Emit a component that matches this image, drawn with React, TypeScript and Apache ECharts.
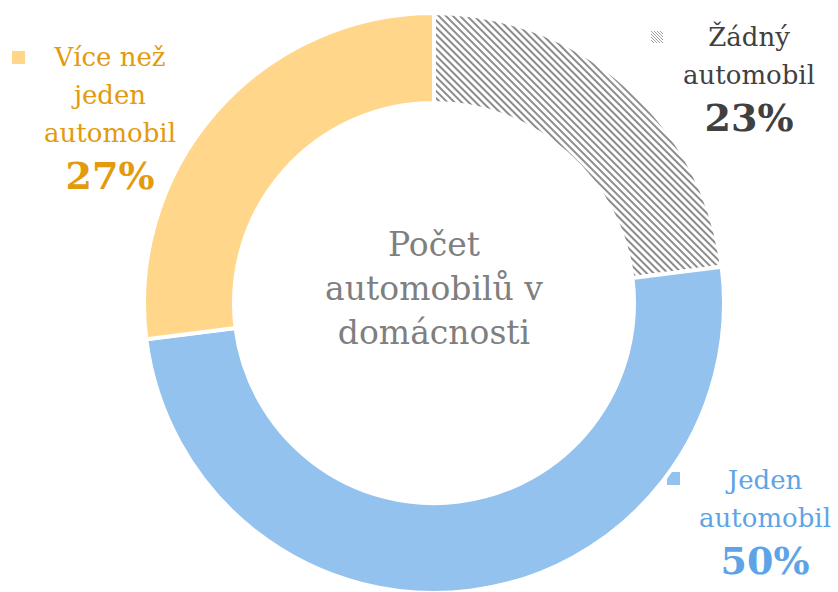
import React, { useEffect, useRef } from "react";
import * as echarts from "echarts";

const categories = ["Žádný automobil", "Jeden automobil", "Více než jeden automobil"];
const labelLines = [["Žádný", "automobil"], ["Jeden", "automobil"], ["Více než", "jeden", "automobil"]];
const values = [23, 50, 27];
const centerLines = ["Počet", "automobilů v", "domácnosti"];

const sliceColors = ["#ffffff", "#93C2EF", "#FFD68A"];
const textColors = ["#404040", "#5DA4E6", "#E39A0C"];
const FONT = "'DejaVu Serif', 'Liberation Serif', serif";

export default function App() {
  const ref = useRef<HTMLDivElement>(null);
  useEffect(() => {
    document.body.style.margin = "0";
    const chart = echarts.init(ref.current!, null, { renderer: "svg" });

    // label anchor positions (text center x, first line center y, marker x, marker y)
    const labelPos = [
      { tx: 749, ty: 37, mx: 651, my: 31 },
      { tx: 765, ty: 480, mx: 667, my: 472 },
      { tx: 110, ty: 57, mx: 12, my: 51 },
    ];

    const graphics: any[] = [];
    const total = values.reduce((a, b) => a + b, 0);
    categories.forEach((c, i) => {
      const p = labelPos[i];
      const pct = Math.round((values[i] / total) * 100) + "%";
      const txt = labelLines[i].map((l) => `{t|${l}}`).join("\n") + `\n{p|${pct}}`;
      graphics.push({
        type: "text",
        x: p.tx,
        y: p.ty - 19,
        style: {
          text: txt,
          align: "center",
          verticalAlign: "top",
          fill: textColors[i],
          rich: {
            t: { fontFamily: FONT, fontSize: 26, lineHeight: 38, fill: textColors[i], align: "center" },
            p: { fontFamily: FONT, fontSize: 38, fontWeight: "bold", lineHeight: 46, fill: textColors[i], align: "center" },
          },
        },
      });
      if (i === 0) {
        const s = 12;
        const lines: any[] = [];
        for (let d = -9; d <= 9; d += 3) {
          const x1 = d >= 0 ? 0 : -d;
          const y1 = d >= 0 ? d : 0;
          const x2 = d >= 0 ? s - d : s;
          const y2 = d >= 0 ? s : s + d;
          lines.push({
            type: "line",
            shape: { x1: p.mx + x1, y1: p.my + y1, x2: p.mx + x2, y2: p.my + y2 },
            style: { stroke: "#a0a0a0", lineWidth: 1 },
          });
        }
        graphics.push({ type: "group", children: lines });
      } else {
        graphics.push({
          type: "rect",
          shape: { x: p.mx, y: p.my, width: 13, height: 13 },
          style: { fill: sliceColors[i] },
        });
      }
    });

    graphics.push({
      type: "text",
      x: 434,
      y: 222,
      style: {
        text: centerLines.join("\n"),
        align: "center",
        verticalAlign: "top",
        fontFamily: FONT,
        fontSize: 33,
        lineHeight: 44,
        fill: "#7F7F7F",
      },
    });

    chart.setOption({
      animation: false,
      backgroundColor: "#ffffff",
      series: [
        {
          type: "pie",
          center: [434, 303],
          radius: [200, 290],
          startAngle: 90,
          clockwise: true,
          label: { show: false },
          labelLine: { show: false },
          silent: true,
          itemStyle: { borderColor: "#ffffff", borderWidth: 4 },
          data: categories.map((c, i) => ({
            name: c,
            value: values[i],
            itemStyle: {
              color: sliceColors[i],
              decal:
                i === 0
                  ? {
                      symbol: "rect",
                      symbolSize: 1,
                      dashArrayX: [1, 0],
                      dashArrayY: [1.1, 2.5],
                      rotation: Math.PI / 4,
                      color: "#8c8c8c",
                      backgroundColor: "#ffffff",
                    }
                  : "none",
            },
          })),
        },
      ],
      graphic: graphics,
    });
    return () => chart.dispose();
  }, []);
  return <div ref={ref} style={{ width: 838, height: 592 }} />;
}
